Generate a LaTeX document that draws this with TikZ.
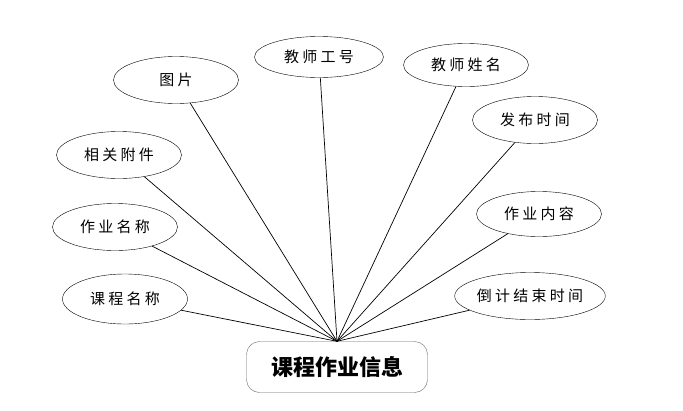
\documentclass[tikz,border=0pt]{standalone}
\usepackage{fontspec}
\setmainfont{Noto Sans CJK SC}
\newfontfamily\cjkspaced[LetterSpace=22]{Noto Sans CJK SC}
\usetikzlibrary{shapes.geometric,positioning}
\tikzset{
    attr/.style={
        draw=black,ellipse,inner sep=0pt,
        minimum width=125pt,minimum height=47pt,
        font=\fontsize{15pt}{17pt}\cjkspaced,text=black
    },
    entity/.style={
        draw=black!60,rounded corners=13pt,
        minimum width=181pt,minimum height=51pt,
        font=\fontsize{22pt}{24pt}\selectfont\bfseries
    },
    link/.style={draw=black,line width=0.7pt}
}

\begin{document}
\begin{tikzpicture}[x=1pt,y=-1pt]
\useasboundingbox (0,0) rectangle (683,410);

\node[entity] (info) at (337,367) {课程作业信息};

\node[attr] (pic)   at (176,80)  {图片};
\node[attr,minimum width=129pt,minimum height=41pt] (tno) at (319,57) {教师工号};
\node[attr,minimum height=43pt] (tname) at (466,65) {教师姓名};
\node[attr] (pub)   at (535,120) {发布时间};
\node[attr] (att)   at (119,155) {相关附件};
\node[attr,minimum height=45pt] (cont) at (539,214) {作业内容};
\node[attr] (hw)    at (115,227) {作业名称};
\node[attr,minimum height=50pt] (course) at (125,299) {课程名称};
\node[attr] (due)   at (530,296) {倒计结束时间};

% every attribute goes to the top of the entity
\foreach \a in {pic,tno,tname,pub,att,cont,hw,course,due}
    \draw[link] (\a) -- (info.north);

\end{tikzpicture}
\end{document}
